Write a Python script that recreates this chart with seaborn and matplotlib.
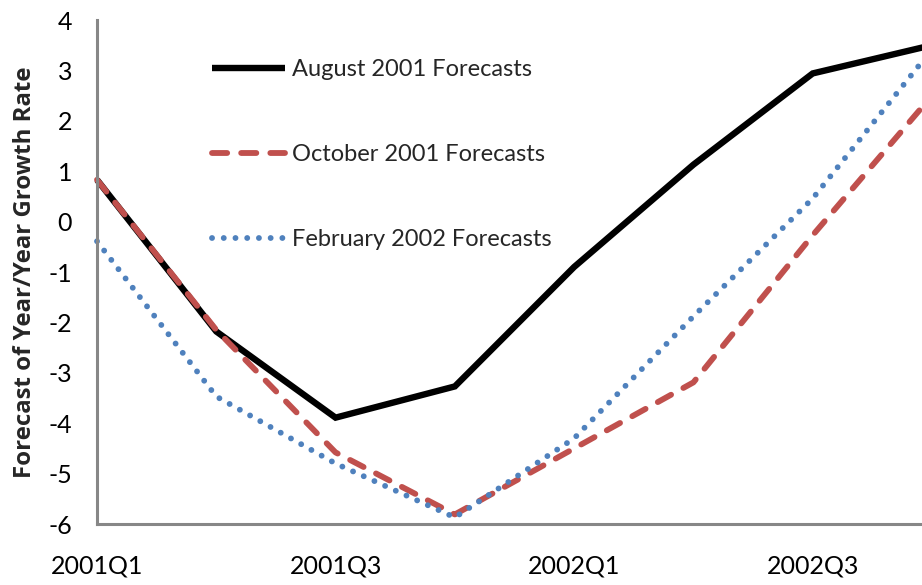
import numpy as np
import pandas as pd
import matplotlib
matplotlib.use("Agg")
import matplotlib.pyplot as plt
import seaborn as sns

quarters = ["2001Q1", "2001Q2", "2001Q3", "2001Q4", "2002Q1", "2002Q2", "2002Q3", "2002Q4"]
aug_2001 = [0.83, -2.18, -3.89, -3.27, -0.9, 1.13, 2.94, 3.5]
oct_2001 = [0.83, -2.15, -4.58, -5.81, -4.5, -3.19, -0.27, 2.5]
feb_2002 = [-0.39, -3.47, -4.8, -5.87, -4.3, -1.88, 0.46, 3.42]
series_names = ["August 2001 Forecasts", "October 2001 Forecasts", "February 2002 Forecasts"]
yticks = [-6, -5, -4, -3, -2, -1, 0, 1, 2, 3, 4]

sns.set_style("white")
plt.rcParams["font.family"] = ["Lato", "DejaVu Sans"]

rows = []
for name, vals in zip(series_names, [aug_2001, oct_2001, feb_2002]):
    for i, (q, v) in enumerate(zip(quarters, vals)):
        rows.append({"pos": i, "quarter": q, "value": v, "series": name})
df = pd.DataFrame(rows)

fig = plt.figure(figsize=(9.22, 5.85), dpi=100)
ax = fig.add_axes([97 / 922, 1 - 524 / 585, (932 - 97) / 922, (524 - 20) / 585])

styles = {
    series_names[0]: dict(color="black", lw=4.6, dashes=None),
    series_names[1]: dict(color="#c0504d", lw=4.2, dashes=(2.6, 2.4)),
    series_names[2]: dict(color="#4f81bd", lw=4.2, dashes=(0.01, 2.0)),
}
for name in series_names:
    st = styles[name]
    sub = df[df["series"] == name]
    sns.lineplot(data=sub, x="pos", y="value", ax=ax, color=st["color"],
                 linewidth=st["lw"], label=name, clip_on=False)
    line = ax.lines[-1]
    if st["dashes"] is not None:
        line.set_linestyle((0, st["dashes"]))
        line.set_dash_capstyle("round")
    else:
        line.set_solid_capstyle("butt")
        line.set_solid_joinstyle("miter")

ax.set_xlim(0, len(quarters) - 1)
ax.set_ylim(-6, 4)
ax.set_yticks(yticks)
ax.set_yticklabels([str(t) for t in yticks])
ax.set_xticks(range(len(quarters)))
ax.set_xticklabels([q if i % 2 == 0 else "" for i, q in enumerate(quarters)])
ax.set_xlabel("")
ax.set_ylabel("Forecast of Year/Year Growth Rate", fontsize=17.3, fontweight="bold",
              family=["Open Sans", "DejaVu Sans"], labelpad=8)

for s in ["top", "right"]:
    ax.spines[s].set_visible(False)
for s in ["left", "bottom"]:
    ax.spines[s].set_color("#878787")
    ax.spines[s].set_linewidth(2.2)
ax.tick_params(axis="both", direction="in", length=6, width=1.5, color="#878787",
               labelsize=18, labelcolor="black")
ax.tick_params(axis="y", pad=18)
ax.tick_params(axis="x", pad=22)

leg = ax.legend(loc="upper left", bbox_to_anchor=((212 - 97) / 835, 1 - (59 - 20) / 504),
                frameon=False, fontsize=17, handlelength=3.1, handletextpad=0.3,
                labelspacing=2.72, borderpad=0, borderaxespad=0)

fig.savefig("out.png", dpi=100)
